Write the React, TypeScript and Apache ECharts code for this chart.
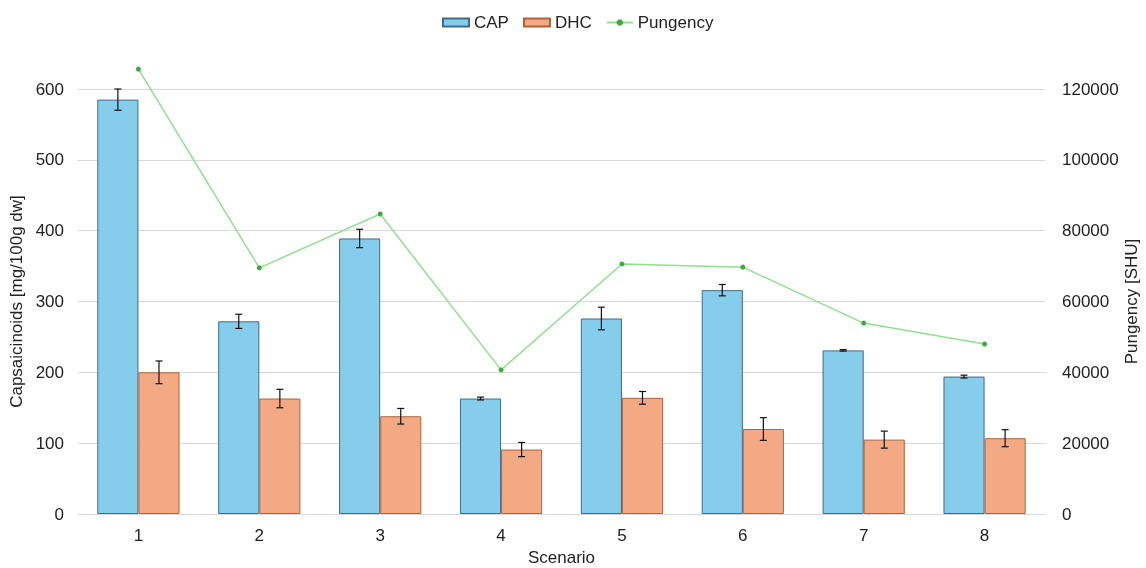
import React, { useEffect, useRef } from "react";
import * as echarts from "echarts";

const categories = ["1", "2", "3", "4", "5", "6", "7", "8"];
const capValues = [585, 272, 389, 163, 276, 316, 231, 194];
const capErrors = [15, 10, 13, 2, 16, 8, 1, 2];
const dhcValues = [200, 163, 138, 91, 164, 120, 105, 107];
const dhcErrors = [16, 13, 11, 10, 9, 16, 12, 12];
const pungency = [125600, 69500, 84700, 40700, 70600, 69700, 53900, 48000];

const leftTicks = { min: 0, max: 600, interval: 100 };
const rightTicks = { min: 0, max: 120000, interval: 20000 };

const FONT = "Liberation Sans, Arial, sans-serif";

export default function App() {
  const ref = useRef<HTMLDivElement>(null);
  useEffect(() => {
    const chart = echarts.init(ref.current!, null, { renderer: "svg" });
    const errRender = (values: number[], errors: number[], side: number) => (params: any, api: any) => {
      const i = api.value(0);
      const v = values[i];
      const e = errors[i];
      const band = api.size([1, 0])[0];
      const off = side * band * 0.17;
      const top = api.coord([i, v + e]);
      const bot = api.coord([i, v - e]);
      const x = top[0] + off;
      const cap = 3.5;
      const style = { stroke: "#111", lineWidth: 1.2 };
      return {
        type: "group",
        children: [
          { type: "line", shape: { x1: x, y1: top[1], x2: x, y2: bot[1] }, style },
          { type: "line", shape: { x1: x - cap, y1: top[1], x2: x + cap, y2: top[1] }, style },
          { type: "line", shape: { x1: x - cap, y1: bot[1], x2: x + cap, y2: bot[1] }, style },
        ],
      };
    };
    chart.setOption({
      animation: false,
      textStyle: { fontFamily: FONT },
      legend: {
        top: 9,
        left: 437,
        itemWidth: 26,
        itemHeight: 8,
        itemGap: 14,
        textStyle: { fontSize: 17, color: "#222", fontFamily: FONT },
        data: [
          { name: "CAP", icon: "rect" },
          { name: "DHC", icon: "rect" },
          { name: "Pungency" },
        ],
      },
      grid: { left: 78, right: 101, top: 89, bottom: 54, outerBoundsMode: "none", containLabel: false },
      xAxis: {
        type: "category",
        data: categories,
        name: "Scenario",
        nameLocation: "middle",
        nameGap: 35,
        nameTextStyle: { fontSize: 17, color: "#222" },
        axisLine: { lineStyle: { color: "#d9d9d9" } },
        axisTick: { show: false },
        axisLabel: { fontSize: 17, color: "#222", margin: 13 },
      },
      yAxis: [
        {
          type: "value",
          ...leftTicks,
          name: "Capsaicinoids [mg/100g dw]",
          nameLocation: "middle",
          nameGap: 49,
          nameTextStyle: { fontSize: 17, color: "#222" },
          axisLine: { show: false },
          axisTick: { show: false },
          axisLabel: { fontSize: 17, color: "#222", margin: 14 },
          splitLine: { lineStyle: { color: "#d9d9d9" } },
        },
        {
          type: "value",
          ...rightTicks,
          name: "Pungency [SHU]",
          nameLocation: "middle",
          nameGap: 78,
          nameMoveOverlap: false,
          nameTextStyle: { fontSize: 17, color: "#222" },
          axisLine: { show: false },
          axisTick: { show: false },
          axisLabel: { fontSize: 17, color: "#222", margin: 17, formatter: (v: number) => String(v) },
          splitLine: { show: false },
        },
      ],
      series: [
        {
          name: "CAP",
          type: "bar",
          data: capValues,
          barGap: "0%",
          barCategoryGap: "32%",
          itemStyle: { color: "#85cdea", borderColor: "#3e6b8a", borderWidth: 1 },
        },
        {
          name: "DHC",
          type: "bar",
          data: dhcValues,
          barGap: "0%",
          barCategoryGap: "32%",
          itemStyle: { color: "#f3aa84", borderColor: "#b0623a", borderWidth: 1 },
        },
        {
          name: "Pungency",
          type: "line",
          yAxisIndex: 1,
          data: pungency,
          clip: false,
          symbol: "circle",
          symbolSize: 5,
          lineStyle: { color: "#8ee28e", width: 1.5 },
          itemStyle: { color: "#3daa3d" },
          z: 5,
        },
        {
          type: "custom",
          name: "capErr",
          data: categories.map((_, i) => [i]),
          renderItem: errRender(capValues, capErrors, -1),
          clip: false,
          z: 4,
          silent: true,
        },
        {
          type: "custom",
          name: "dhcErr",
          data: categories.map((_, i) => [i]),
          renderItem: errRender(dhcValues, dhcErrors, 1),
          clip: false,
          z: 4,
          silent: true,
        },
      ],
    });
    return () => chart.dispose();
  }, []);
  return <div ref={ref} style={{ position: "fixed", left: 0, top: 0, width: 1146, height: 568 }} />;
}
